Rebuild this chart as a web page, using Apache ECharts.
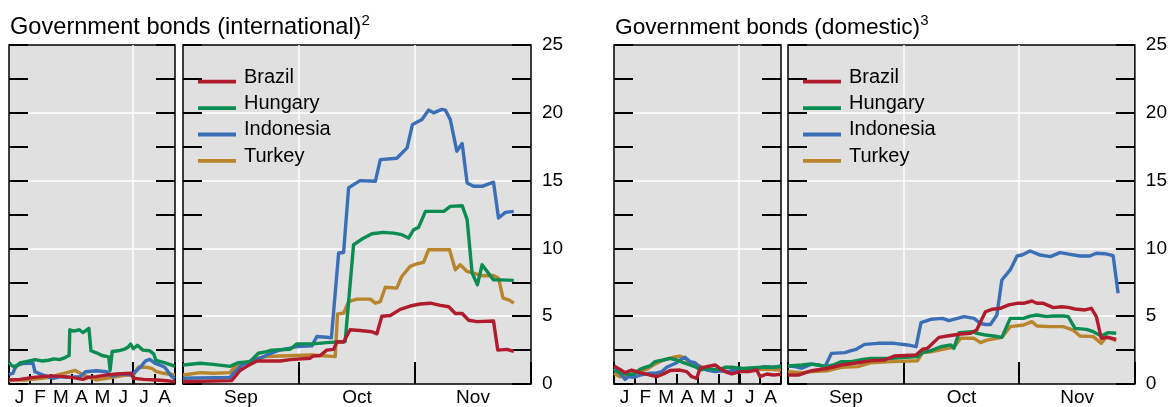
<!DOCTYPE html>
<html>
<head>
<meta charset="utf-8">
<script src="https://cdn.jsdelivr.net/npm/echarts@6.0.0/dist/echarts.min.js"></script>
<style>
html,body{margin:0;padding:0;background:#fff;}
#chart{width:1170px;height:407px;}
</style>
</head>
<body>
<div id="chart"></div>
<script>
// ---------------- DATA ----------------
const countries = ['Brazil', 'Hungary', 'Indonesia', 'Turkey'];
const monthsYTD = ['J', 'F', 'M', 'A', 'M', 'J', 'J', 'A'];
const monthsRecent = ['Sep', 'Oct', 'Nov'];
const ytdDays = 243;      // Jan 1 .. Aug 31 (day of year)
const julyFirst = 181;    // day of year for Jul 1
const recentDays = 91;    // Sep 1 .. Nov 30 (days from Sep 1)
const yMin = 0, yMax = 25, yStep = 5;

// International government bonds, Jan-Aug: [day of year, value]
const intlBrazilYTD = [[0,0.3],[16,0.34],[36,0.49],[60,0.6],[80,0.54],[94,0.47],[108,0.34],[116,0.49],[128,0.54],[143,0.66],[158,0.74],[179,0.79],[182,0.42],[197,0.34],[216,0.29],[231,0.24],[243,0.17]];
const intlHungaryYTD = [[0,1.6],[4,1.35],[10,1.25],[16,1.55],[25,1.65],[38,1.8],[48,1.7],[58,1.75],[66,1.85],[74,1.8],[82,1.95],[88,2.1],[89,4.0],[95,3.9],[103,4.0],[108,3.8],[113,3.95],[117,4.1],[120,2.45],[128,2.3],[136,2.1],[146,2.0],[148,1.0],[151,2.4],[160,2.45],[168,2.55],[174,2.7],[178,2.95],[182,2.6],[188,2.85],[196,2.5],[206,2.45],[212,2.2],[215,1.75],[226,1.6],[235,1.45],[243,1.3]];
const intlIndonesiaYTD = [[0,0.7],[6,0.8],[10,1.35],[20,1.5],[35,1.55],[38,0.9],[50,0.65],[65,0.42],[75,0.54],[90,0.5],[104,0.54],[112,0.9],[128,0.98],[143,0.9],[148,0.66],[153,0.6],[165,0.74],[180,0.66],[185,0.9],[192,1.23],[200,1.7],[206,1.82],[214,1.52],[221,1.4],[228,1.23],[233,0.9],[238,0.55],[243,0.4]];
const intlTurkeyYTD = [[0,0.3],[26,0.3],[45,0.4],[60,0.5],[77,0.74],[89,0.9],[97,1.0],[109,0.66],[119,0.47],[128,0.3],[143,0.42],[158,0.54],[172,0.66],[182,0.66],[189,1.23],[202,1.23],[209,1.15],[216,0.91],[226,0.79],[243,0.66]];

// International government bonds, Sep-Nov: [days from Sep 1, value]
const intlBrazilRecent = [[0,0.17],[12.7,0.25],[13.6,0.54],[14.9,1.0],[16.7,1.3],[19.3,1.7],[25.4,1.7],[28,1.8],[33.2,1.9],[34.1,2.07],[35.9,2.1],[37.6,2.5],[39.4,2.55],[40.2,3.1],[42,3.1],[43.7,4.0],[46.3,3.95],[49.4,3.85],[50.7,3.7],[52,5.0],[54.2,5.05],[56.8,5.5],[59.4,5.75],[62,5.9],[64.7,5.96],[67.3,5.8],[69.5,5.7],[71.2,5.2],[73,5.2],[74.7,4.7],[76.9,4.6],[81.2,4.65],[82.3,2.5],[84.7,2.55],[86.5,2.4]];
const intlHungaryRecent = [[0,1.4],[4.5,1.53],[7.9,1.45],[12.3,1.3],[14.5,1.58],[17.5,1.65],[19.7,2.27],[21.9,2.39],[23.2,2.5],[28,2.56],[29.8,2.96],[34.1,2.96],[37.6,3.05],[42.4,3.13],[44.6,10.27],[46.8,10.69],[49.4,11.08],[52.4,11.18],[55.1,11.13],[57.2,11.01],[59,10.76],[60.3,11.38],[61.6,11.55],[63.4,12.73],[68.2,12.73],[69.9,13.1],[73,13.15],[74.3,12.12],[75.6,8.18],[77,7.32],[78.2,8.79],[81.2,7.68],[83,7.68],[86.5,7.64]];
const intlIndonesiaRecent = [[0,0.42],[12.3,0.49],[13.6,0.91],[15.4,1.4],[17.5,1.65],[20.2,1.9],[21.9,2.14],[25.4,2.51],[28,2.64],[29.8,2.76],[33.7,2.81],[35,3.5],[37.6,3.45],[38.8,3.4],[40.7,9.66],[42,9.7],[43.3,14.46],[44.6,14.7],[46.3,15.0],[50.3,14.95],[51.6,16.55],[55.9,16.65],[58.6,17.41],[60,19.14],[62.5,19.5],[64.2,20.2],[65.5,20.0],[67.7,20.25],[68.6,20.2],[69.9,19.5],[71.6,17.17],[73,17.73],[74.3,14.83],[76,14.58],[78.2,14.58],[81.2,14.88],[82.5,12.24],[84.3,12.66],[86.5,12.73]];
const intlTurkeyRecent = [[0,0.66],[4.5,0.84],[7.9,0.79],[12.3,0.84],[13.6,1.28],[16.7,1.58],[19.3,1.9],[21.9,2.02],[25.4,2.07],[33.7,2.14],[39.8,2.02],[40.4,5.17],[42,5.22],[43.3,6.08],[45.5,6.26],[49,6.26],[50.3,5.96],[51.6,6.08],[52.9,7.14],[55.9,7.07],[57.2,7.93],[59.4,8.67],[61.2,8.87],[62.9,8.97],[64.2,9.9],[69.7,9.9],[71.2,8.42],[72.5,8.79],[74.3,8.3],[76,8.18],[78.2,7.98],[81.2,8.0],[82.5,7.8],[83.7,6.33],[85.2,6.2],[86.5,5.96]];

// Domestic government bonds, Jan-Aug
const domBrazilYTD = [[0,1.33],[8.7,1.08],[16,0.84],[25.7,1.03],[37.8,0.84],[52.4,0.66],[62.1,0.54],[71.8,0.74],[81.5,1.0],[96,1.03],[105.8,0.91],[113.1,0.54],[120.3,0.42],[125.2,1.15],[134.9,1.28],[147,1.4],[154.3,1.15],[161.6,0.91],[171.3,0.74],[183.4,0.91],[195.5,0.91],[207.7,1.03],[212.5,0.54],[222.2,0.74],[231.9,0.66],[243,0.71]];
const domHungaryYTD = [[0,1.03],[8.7,0.84],[18.4,0.74],[28.1,0.71],[37.8,1.08],[45.1,1.23],[52.4,1.33],[59.7,1.65],[71.8,1.77],[81.5,1.89],[91.2,1.77],[100.9,1.57],[110.6,1.4],[120.3,1.23],[125.2,1.03],[134.9,1.15],[144.6,1.08],[154.3,1.08],[161.6,1.23],[173.7,1.23],[188.3,1.15],[202.8,1.2],[217.4,1.23],[227.1,1.23],[243,1.28]];
const domIndonesiaYTD = [[0,1.15],[8.7,0.79],[16,0.34],[20.9,0.54],[28.1,0.49],[37.8,0.66],[52.4,0.79],[59.7,0.79],[69.4,0.91],[76.6,1.23],[83.9,1.4],[91.2,1.57],[96,1.77],[103.3,1.97],[110.6,1.65],[117.9,1.57],[125.2,1.23],[134.9,1.03],[147,0.91],[156.7,0.98],[166.4,0.91],[173.7,1.03],[183.4,0.98],[195.5,1.08],[207.7,1.15],[219.8,1.28],[231.9,1.23],[243,1.33]];
const domTurkeyYTD = [[0,0.79],[8.7,0.54],[18.4,0.59],[28.1,0.79],[37.8,0.91],[47.5,1.08],[57.2,1.4],[71.8,1.77],[86.3,1.97],[96,2.06],[103.3,1.89],[110.6,1.52],[120.3,1.4],[130,1.23],[139.7,1.08],[154.3,0.98],[168.9,0.91],[183.4,1.08],[198,1.15],[212.5,1.08],[227.1,1.08],[243,1.03]];

// Domestic government bonds, Sep-Nov
const domBrazilRecent = [[0,0.66],[2.7,0.66],[6.2,0.98],[10.5,1.16],[14,1.4],[18.3,1.57],[21.8,1.72],[25.3,1.77],[27.9,2.06],[33.6,2.14],[35.3,2.56],[36.6,2.63],[39.6,3.44],[41.8,3.54],[45.3,3.69],[47.9,3.74],[49.5,3.98],[51.8,5.33],[53.5,5.51],[55.7,5.58],[57.9,5.83],[60.1,5.95],[61.8,5.95],[64,6.12],[65.3,5.95],[67,5.95],[69.6,5.63],[71.8,5.7],[73.5,5.65],[75.3,5.53],[77.9,5.46],[79.6,5.58],[80.9,4.97],[82.2,3.37],[84,3.44],[86.1,3.29]];
const domHungaryRecent = [[0,1.33],[3.6,1.4],[6.2,1.47],[7.9,1.4],[10.1,1.28],[11.8,1.4],[14,1.65],[16.6,1.65],[19.6,1.82],[21.8,1.89],[27,1.89],[34,2.02],[35.3,2.31],[37.5,2.46],[40.1,2.75],[42.7,2.88],[43.5,2.63],[44.9,3.79],[48.3,3.86],[49.6,3.74],[51.8,3.61],[54,3.54],[56.1,3.44],[58.3,4.84],[61.8,4.84],[63.5,5.01],[65.3,5.09],[67.9,4.97],[69.6,5.01],[72.2,5.01],[73.5,4.97],[75.3,4.1],[78.3,4.03],[80.1,3.86],[82.2,3.54],[84,3.79],[86.1,3.74]];
const domIndonesiaRecent = [[0,1.33],[1.8,1.28],[3.6,1.16],[6.2,1.47],[7.9,1.4],[9.7,1.28],[11.4,2.26],[14.9,2.31],[16.6,2.46],[17.9,2.56],[20.1,2.92],[23.6,3.0],[27.9,3.0],[31.4,2.88],[33.6,2.75],[34.9,4.52],[37.5,4.77],[40.5,4.84],[42.2,4.67],[46.2,4.97],[48.8,4.84],[50.5,4.46],[51.8,4.39],[53.1,4.39],[54.8,5.09],[56.1,7.67],[58.3,8.41],[60.1,9.44],[61.4,9.51],[63.5,9.81],[66.2,9.51],[68.8,9.39],[71.4,9.69],[74,9.56],[76.6,9.44],[79.2,9.44],[80.9,9.64],[83.1,9.61],[85.3,9.46],[86.6,6.69]];
const domTurkeyRecent = [[0,0.91],[3.6,0.84],[6.2,0.91],[10.5,0.98],[14,1.23],[18.3,1.28],[21.8,1.57],[27,1.65],[34,1.72],[35.3,2.31],[37.5,2.38],[41.8,2.63],[43.5,2.7],[45.3,3.37],[48.8,3.37],[50.5,3.05],[52.2,3.24],[56.1,3.44],[58.3,4.23],[61.8,4.35],[64,4.6],[65.3,4.28],[68.8,4.23],[72.2,4.23],[74.8,3.98],[76.6,3.54],[80.1,3.49],[82.2,3.0],[83.5,3.49],[86.1,3.19]];

// ---------------- STYLE / LAYOUT ----------------
const FONT = '"Liberation Sans", Arial, Helvetica, sans-serif';
const colors = { Brazil: '#b01c2e', Hungary: '#0b8c52', Indonesia: '#3a6fb7', Turkey: '#b8842c' };
const TOP = 45, HEIGHT = 339;
const gridBoxes = [
  { left: 9,   width: 166, kind: 'ytd' },
  { left: 183, width: 348, kind: 'recent' },
  { left: 614, width: 167, kind: 'ytd' },
  { left: 788, width: 349, kind: 'recent' }
];
const seriesData = [
  { Brazil: intlBrazilYTD, Hungary: intlHungaryYTD, Indonesia: intlIndonesiaYTD, Turkey: intlTurkeyYTD },
  { Brazil: intlBrazilRecent, Hungary: intlHungaryRecent, Indonesia: intlIndonesiaRecent, Turkey: intlTurkeyRecent },
  { Brazil: domBrazilYTD, Hungary: domHungaryYTD, Indonesia: domIndonesiaYTD, Turkey: domTurkeyYTD },
  { Brazil: domBrazilRecent, Hungary: domHungaryRecent, Indonesia: domIndonesiaRecent, Turkey: domTurkeyRecent }
];

const black = { color: '#000', width: 2 };
const white = { color: '#fff', width: 1.5 };

const grid = [], xAxis = [], yAxis = [], series = [];
gridBoxes.forEach((g, i) => {
  grid.push({ left: g.left, top: TOP, width: g.width, height: HEIGHT, show: true,
    backgroundColor: '#e0e0e0', borderColor: '#000', borderWidth: 1.5, containLabel: false });
  if (g.kind === 'ytd') {
    xAxis.push({ type: 'value', gridIndex: i, position: 'bottom', min: 0, max: ytdDays, interval: julyFirst,
      axisLine: { show: false }, axisLabel: { show: false },
      axisTick: { show: true, inside: true, length: 22, lineStyle: black },
      splitLine: { show: true, showMinLine: false, showMaxLine: false, lineStyle: white } });
    xAxis.push({ type: 'category', gridIndex: i, position: 'bottom', data: monthsYTD, boundaryGap: true,
      axisLine: { show: false },
      axisTick: { show: true, inside: true, length: 10, interval: 0, lineStyle: black },
      axisLabel: { interval: 0, fontSize: 19, color: '#000', margin: 4, fontFamily: FONT },
      splitLine: { show: false } });
  } else {
    xAxis.push({ type: 'value', gridIndex: i, position: 'bottom', min: 0, max: recentDays, show: false });
    xAxis.push({ type: 'category', gridIndex: i, position: 'bottom', data: monthsRecent, boundaryGap: true,
      axisLine: { show: false },
      axisTick: { show: true, inside: true, length: 22, interval: 0, lineStyle: black },
      axisLabel: { interval: 0, fontSize: 19, color: '#000', margin: 4, fontFamily: FONT },
      splitLine: { show: true, interval: 0, showMinLine: false, showMaxLine: false, lineStyle: white } });
  }
  const common = { type: 'value', gridIndex: i, min: yMin, max: yMax, interval: yStep,
    axisLine: { show: false },
    axisTick: { show: true, inside: true, length: 19, lineStyle: black },
    minorTick: { show: true, splitNumber: 2, length: 19, lineStyle: black } };
  yAxis.push(Object.assign({}, common, { position: 'left', axisLabel: { show: false },
    splitLine: { show: true, showMinLine: false, showMaxLine: false, lineStyle: white } }));
  yAxis.push(Object.assign({}, common, { position: 'right', splitLine: { show: false },
    axisLabel: { show: g.kind === 'recent', fontSize: 19, color: '#000', margin: 11, fontFamily: FONT } }));

  ['Turkey', 'Indonesia', 'Hungary', 'Brazil'].forEach(c => {
    series.push({ name: c, type: 'line', xAxisIndex: 2 * i, yAxisIndex: 2 * i,
      data: seriesData[i][c], showSymbol: false, symbol: 'none', color: colors[c],
      lineStyle: { width: 3.4, color: colors[c], join: 'round' }, animation: false });
  });
});

// legend key: a 38x20 box whose coloured bar sits low (near the text baseline)
const legendIcon = 'path://M0,0L0.01,0L0.01,20L0,20Z M0,12.8L38,12.8L38,16.6L0,16.6Z';
const legendCommon = { data: countries, orient: 'vertical', top: 67, padding: 0, itemGap: 6.4,
  itemWidth: 38, itemHeight: 20, icon: legendIcon, selectedMode: false,
  textStyle: { fontSize: 20, color: '#000', fontFamily: FONT, lineHeight: 20, padding: [0, 0, 0, 3] } };

function titleRich(size) {
  return {
    m: { fontSize: size, fontFamily: FONT, fontWeight: 'normal', color: '#000', lineHeight: 28 },
    s: { fontSize: 15, fontFamily: FONT, fontWeight: 'normal', color: '#000', verticalAlign: 'top', lineHeight: 17 }
  };
}

const option = {
  animation: false,
  backgroundColor: '#fff',
  title: [
    { text: '{m|Government bonds (international)}{s|2}', left: 10, top: 13.7, padding: 0,
      textStyle: { fontWeight: 'normal', rich: titleRich(23.6) } },
    { text: '{m|Government bonds (domestic)}{s|3}', left: 615, top: 13.7, padding: 0,
      textStyle: { fontWeight: 'normal', rich: titleRich(22.7) } }
  ],
  legend: [
    Object.assign({}, legendCommon, { left: 198 }),
    Object.assign({}, legendCommon, { left: 803 })
  ],
  grid, xAxis, yAxis, series
};

const chart = echarts.init(document.getElementById('chart'), null, { renderer: 'canvas' });
chart.setOption(option);
</script>
</body>
</html>
